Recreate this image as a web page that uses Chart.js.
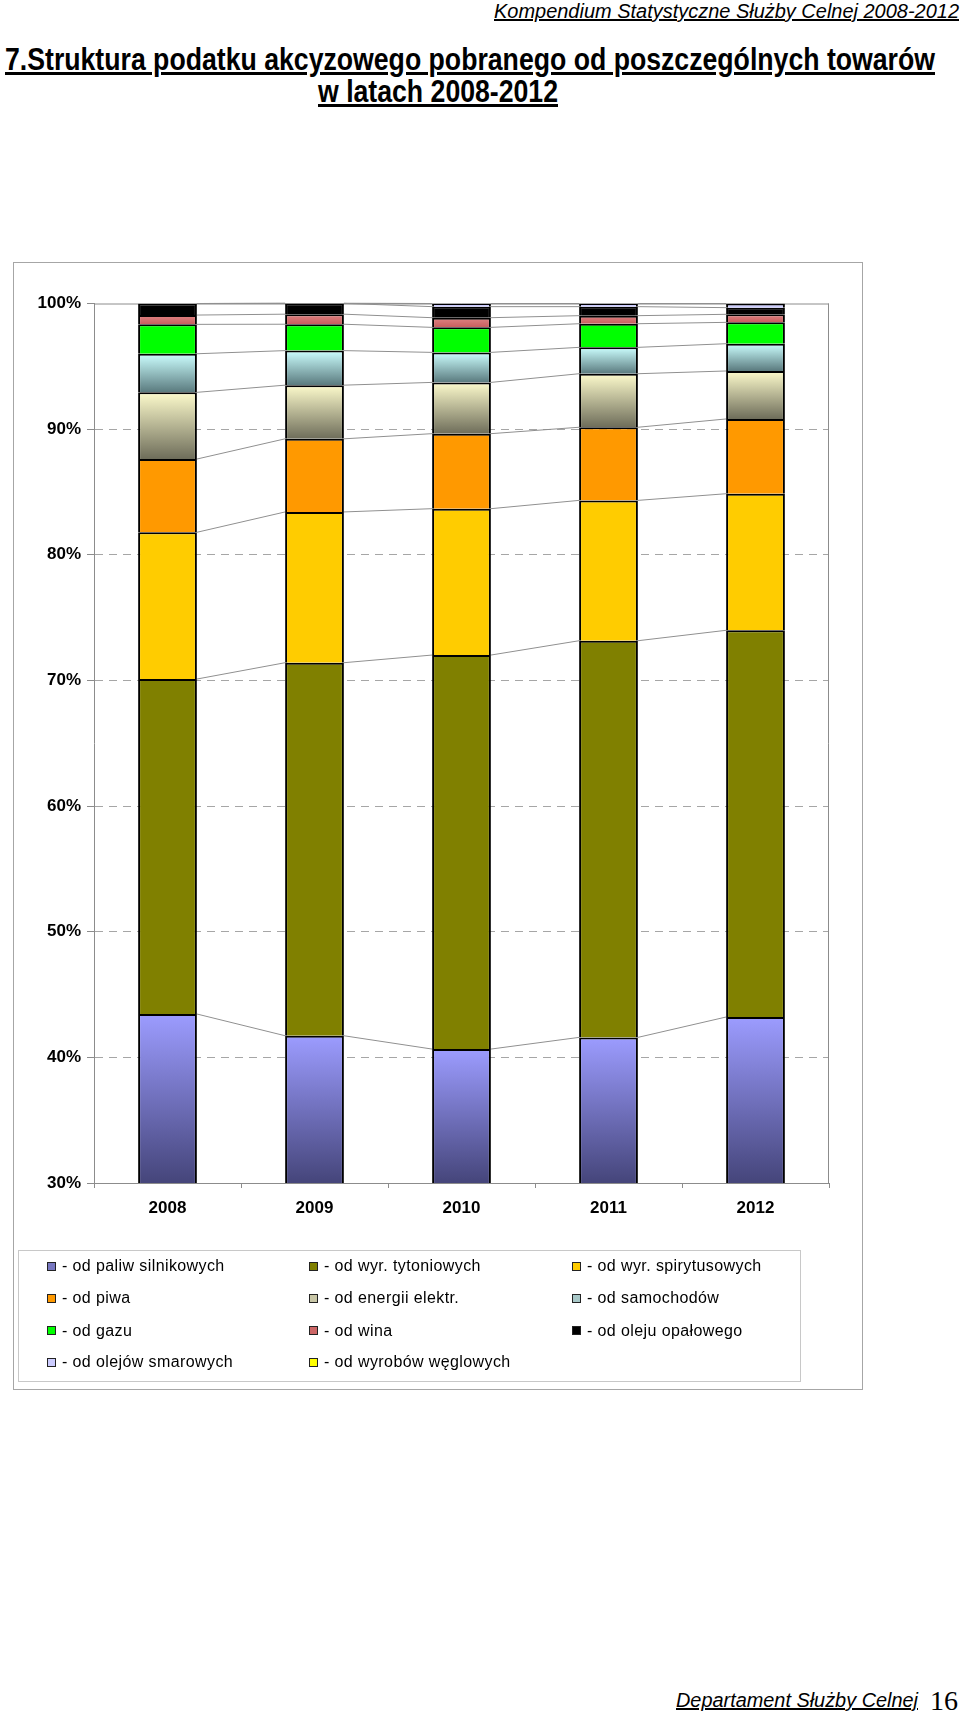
<!DOCTYPE html>
<html>
<head>
<meta charset="utf-8">
<script src="https://cdn.jsdelivr.net/npm/chart.js@4.4.1/dist/chart.umd.min.js"></script>
<style>
html,body{margin:0;padding:0;background:#fff;}
body{width:960px;height:1715px;position:relative;overflow:hidden;font-family:"Liberation Sans",Arial,sans-serif;color:#000;}
.fit{position:absolute;white-space:nowrap;transform-origin:0 0;}
#header{font-family:"Liberation Sans Narrow","Arial Narrow","Liberation Sans",sans-serif;font-style:italic;font-size:20px;line-height:20px;text-decoration:underline;}
.title{font-family:"Liberation Sans Narrow","Arial Narrow","Liberation Sans",sans-serif;font-weight:bold;font-size:32px;line-height:32px;text-decoration:underline;}
#footer{font-family:"Liberation Sans",Arial,sans-serif;font-style:italic;font-size:20px;line-height:20px;text-decoration:underline;}
#pageno{position:absolute;font-family:"Liberation Serif","Times New Roman",serif;font-size:28px;line-height:28px;left:930px;top:1687px;}
#box{position:absolute;left:13px;top:262px;width:848px;height:1126px;border:1px solid #a6a6a6;}
#chart{position:absolute;left:13px;top:262px;}
#legend{position:absolute;left:18px;top:1250px;width:781px;height:130px;border:1px solid #c8c8c8;}
.li{position:absolute;font-size:16px;line-height:18px;letter-spacing:0.4px;white-space:nowrap;}
.mk{position:absolute;width:7px;height:7px;border:1px solid #222;}
</style>
</head>
<body>
<div id="header" class="fit">Kompendium Statystyczne Służby Celnej 2008-2012</div>
<div id="title1" class="fit title">7.Struktura podatku akcyzowego pobranego od poszczególnych towarów</div>
<div id="title2" class="fit title">w latach 2008-2012</div>
<div id="box"></div>
<canvas id="chart" width="850" height="1128"></canvas>
<div id="legend"></div>
<div id="footer" class="fit">Departament Służby Celnej</div>
<div id="pageno">16</div>
<script>
// ---- data (percent share of excise tax) ----
const years = ['2008', '2009', '2010', '2011', '2012'];
const seriesNames = [
  '- od paliw silnikowych', '- od wyr. tytoniowych', '- od wyr. spirytusowych',
  '- od piwa', '- od energii elektr.', '- od samochodów',
  '- od gazu', '- od wina', '- od oleju opałowego',
  '- od olejów smarowych', '- od wyrobów węglowych'
];
const paliw     = [43.45, 41.72, 40.66, 41.59, 43.21];
const tyton     = [26.66, 29.69, 31.36, 31.57, 30.78];
const spiryt    = [11.68, 12.00, 11.65, 11.17, 10.87];
const piwo      = [5.83, 5.82, 5.97, 5.82, 5.95];
const energia   = [5.31, 4.27, 4.08, 4.26, 3.82];
const samochody = [3.07, 2.75, 2.39, 2.10, 2.17];
const gaz       = [2.34, 2.10, 1.99, 1.88, 1.70];
const wino      = [0.74, 0.80, 0.77, 0.64, 0.64];
const olejOpal  = [0.92, 0.86, 0.88, 0.72, 0.53];
const olejSmar  = [0.00, 0.00, 0.25, 0.25, 0.33];
const weglowe   = [0.00, 0.00, 0.00, 0.00, 0.00];
const yTickValues = [30, 40, 50, 60, 70, 80, 90, 100];

// ---- styles ----
const fills = [
  ['#9c9cff', '#45457a'], '#808000', '#ffcc00', '#ff9900',
  ['#fdfbcc', '#6e6d5a'], ['#ccffff', '#5a7a7e'], '#00ff00',
  ['#e08484', '#c85e5e'], '#000000', '#ccccff', '#ffff00'
];
const legendColors = ['#7777c0', '#808000', '#ffcc00', '#ff9900', '#c8c6a6', '#a8c8c8',
  '#00ff00', '#cc6666', '#000000', '#ccccff', '#ffff00'];
const seriesData = [paliw, tyton, spiryt, piwo, energia, samochody, gaz, wino, olejOpal, olejSmar, weglowe];

function makeFill(f) {
  if (!Array.isArray(f)) return f;
  return (ctx) => {
    const chart = ctx.chart;
    const area = chart.chartArea;
    if (!area || ctx.type !== 'data' || !chart.scales.y) return f[0];
    const di = ctx.datasetIndex, i = ctx.dataIndex;
    let base = 0;
    for (let d = 0; d < di; d++) base += chart.data.datasets[d].data[i] || 0;
    const top = base + (chart.data.datasets[di].data[i] || 0);
    const ys = chart.scales.y;
    let y0 = Math.max(ys.getPixelForValue(top), area.top);
    let y1 = Math.min(ys.getPixelForValue(base), area.bottom);
    if (!(y1 > y0)) y1 = y0 + 1;
    const g = chart.ctx.createLinearGradient(0, y0, 0, y1);
    g.addColorStop(0, f[0]);
    g.addColorStop(1, f[1]);
    return g;
  };
}

const datasets = seriesData.map((d, k) => ({
  label: seriesNames[k],
  data: d,
  backgroundColor: makeFill(fills[k]),
  borderColor: '#000',
  borderWidth: (ctx) => (ctx.raw ? 2 : 0),
  borderSkipped: 'start',
  categoryPercentage: 1,
  barPercentage: 0.4
}));

// series lines between stacked segments (Excel style)
const seriesLines = {
  id: 'seriesLines',
  beforeDatasetsDraw(chart) {
    const ctx = chart.ctx;
    ctx.save();
    ctx.strokeStyle = '#909090';
    ctx.lineWidth = 1;
    chart.data.datasets.forEach((ds, di) => {
      const meta = chart.getDatasetMeta(di);
      for (let i = 0; i < meta.data.length - 1; i++) {
        const a = meta.data[i], b = meta.data[i + 1];
        ctx.beginPath();
        ctx.moveTo(a.x + a.width / 2, a.y);
        ctx.lineTo(b.x - b.width / 2, b.y);
        ctx.stroke();
      }
    });
    ctx.restore();
  }
};
const plotFrame = {
  id: 'plotFrame',
  beforeDatasetsDraw(chart) {
    const {left, top, right, bottom} = chart.chartArea;
    const ctx = chart.ctx;
    ctx.save();
    ctx.strokeStyle = '#8c8c8c';
    ctx.lineWidth = 1;
    ctx.beginPath();
    ctx.moveTo(left, top + 0.5); ctx.lineTo(right, top + 0.5);
    ctx.moveTo(right - 0.5, top); ctx.lineTo(right - 0.5, bottom);
    ctx.stroke();
    ctx.restore();
  }
};

const tickFont = { family: '"Liberation Sans", Arial, sans-serif', size: 17, weight: 'bold' };

new Chart(document.getElementById('chart'), {
  type: 'bar',
  data: { labels: years, datasets },
  options: {
    responsive: false,
    animation: false,
    layout: { padding: { left: 0, right: 34, top: 41.5, bottom: 167 } },
    plugins: { legend: { display: false }, tooltip: { enabled: false } },
    scales: {
      x: {
        stacked: true,
        afterFit: (s) => { s.height = 40; },
        grid: { display: true, drawOnChartArea: false, drawTicks: true, tickLength: 5, color: '#8c8c8c', offset: true },
        border: { display: true, color: '#8c8c8c', width: 1 },
        ticks: { color: '#000', padding: 10, font: tickFont }
      },
      y: {
        stacked: true,
        min: 30, max: 100,
        afterFit: (s) => { s.width = 81; },
        afterBuildTicks: (s) => { s.ticks = yTickValues.map(v => ({ value: v })); },
        grid: {
          color: (c) => (c.tick && (c.tick.value === 30 || c.tick.value === 100)) ? 'rgba(0,0,0,0)' : '#a6a6a6',
          tickColor: '#8c8c8c', tickLength: 7, lineWidth: 1
        },
        border: { display: true, color: '#8c8c8c', width: 1, dash: [8, 6] },
        ticks: {
          color: '#000', padding: 6,
          font: tickFont,
          callback: (v) => v + '%'
        }
      }
    }
  },
  plugins: [plotFrame, seriesLines]
});

// ---- HTML legend built from the datasets ----
const legend = document.getElementById('legend');
const colX = [46 - 18, 308 - 18, 571 - 18];
const rowY = [1265 - 1250, 1297 - 1250, 1329.5 - 1250, 1361 - 1250];
seriesNames.forEach((name, k) => {
  const c = k % 3, r = Math.floor(k / 3);
  const mk = document.createElement('div');
  mk.className = 'mk';
  mk.style.left = colX[c] + 'px';
  mk.style.top = (rowY[r] - 4.5) + 'px';
  mk.style.background = legendColors[k];
  legend.appendChild(mk);
  const t = document.createElement('div');
  t.className = 'li';
  t.textContent = name;
  t.style.left = (colX[c] + 15) + 'px';
  t.style.top = (rowY[r] - 9) + 'px';
  legend.appendChild(t);
});

// ---- fit texts to their measured widths in the reference ----
function fit(id, left, right, top) {
  const el = document.getElementById(id);
  el.style.left = left + 'px';
  el.style.top = top + 'px';
  const w = el.getBoundingClientRect().width;
  el.style.transform = 'scaleX(' + ((right - left) / w) + ')';
}
fit('header', 494, 959, 1);
fit('title1', 5, 935, 43);
fit('title2', 318, 558, 75);
fit('footer', 676, 918, 1690);
</script>
</body>
</html>
